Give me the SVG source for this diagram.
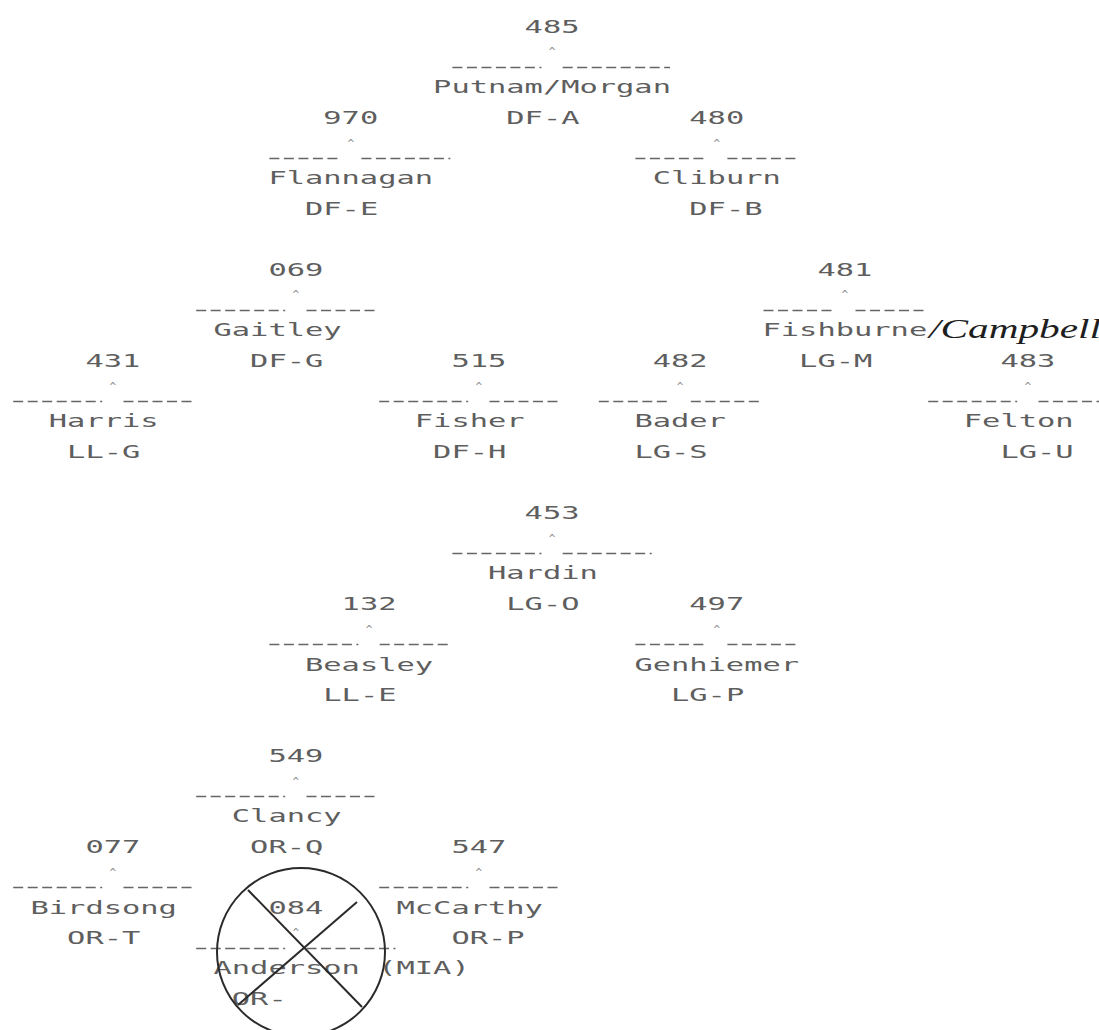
<svg xmlns="http://www.w3.org/2000/svg" width="1099" height="1030" viewBox="0 0 1099 1030">
<style>
.t{font-family:"DejaVu Sans Mono","Liberation Mono",monospace;font-size:18px;fill:#5e5e5e}
.c{font-family:"DejaVu Sans Mono","Liberation Mono",monospace;font-size:11px;fill:#8a8a8a;text-anchor:middle}
.d{fill:none;stroke:#666;stroke-width:1.5;stroke-dasharray:10 4.5}
.hand{font-family:"Liberation Serif","DejaVu Serif",serif;font-style:italic;font-size:27px;fill:#1e1e1e}
.mark{fill:none;stroke:#2a2a2a;stroke-width:2}
</style>
<rect width="1099" height="1030" fill="#fff"/>
<g id="connectors"/>
<g id="node-485">
<text class="t" x="524.6" y="32.5" textLength="54.9" lengthAdjust="spacingAndGlyphs">485</text>
<text class="c" x="552.05" y="55.4">^</text>
<path class="d" d="M452.4 67.4H541.4M562.7 67.4H670"/>
<text class="t" x="433.1" y="93.3" textLength="237.9" lengthAdjust="spacingAndGlyphs">Putnam/Morgan</text>
<text class="t" x="506.3" y="123.6" textLength="73.2" lengthAdjust="spacingAndGlyphs">DF-A</text>
</g>
<g id="node-970">
<text class="t" x="323.3" y="123.6" textLength="54.9" lengthAdjust="spacingAndGlyphs">970</text>
<text class="c" x="350.75" y="146.5">^</text>
<path class="d" d="M269.4 158.5H340.1M361.4 158.5H450.4"/>
<text class="t" x="268.4" y="184.4" textLength="164.7" lengthAdjust="spacingAndGlyphs">Flannagan</text>
<text class="t" x="305" y="214.8" textLength="73.2" lengthAdjust="spacingAndGlyphs">DF-E</text>
</g>
<g id="node-480">
<text class="t" x="689.3" y="123.6" textLength="54.9" lengthAdjust="spacingAndGlyphs">480</text>
<text class="c" x="716.75" y="146.5">^</text>
<path class="d" d="M635.4 158.5H706.1M727.4 158.5H797.1"/>
<text class="t" x="652.7" y="184.4" textLength="128.1" lengthAdjust="spacingAndGlyphs">Cliburn</text>
<text class="t" x="689.3" y="214.8" textLength="73.2" lengthAdjust="spacingAndGlyphs">DF-B</text>
</g>
<g id="node-069">
<text class="t" x="268.4" y="275.5" textLength="54.9" lengthAdjust="spacingAndGlyphs">069</text>
<text class="c" x="295.85" y="298.4">^</text>
<path class="d" d="M196.2 310.4H285.2M306.5 310.4H377.2"/>
<text class="t" x="213.5" y="336.3" textLength="128.1" lengthAdjust="spacingAndGlyphs">Gaitley</text>
<text class="t" x="250.1" y="366.7" textLength="73.2" lengthAdjust="spacingAndGlyphs">DF-G</text>
</g>
<g id="node-481">
<text class="t" x="817.4" y="275.5" textLength="54.9" lengthAdjust="spacingAndGlyphs">481</text>
<text class="c" x="844.85" y="298.4">^</text>
<path class="d" d="M763.5 310.4H834.2M855.5 310.4H926.2"/>
<text class="t" x="762.5" y="336.3" textLength="164.7" lengthAdjust="spacingAndGlyphs">Fishburne</text>
<text class="t" x="799.1" y="366.7" textLength="73.2" lengthAdjust="spacingAndGlyphs">LG-M</text>
</g>
<g id="node-431">
<text class="t" x="85.4" y="366.7" textLength="54.9" lengthAdjust="spacingAndGlyphs">431</text>
<text class="c" x="112.85" y="389.6">^</text>
<path class="d" d="M13.2 401.6H102.2M123.5 401.6H194.2"/>
<text class="t" x="48.8" y="427.4" textLength="109.8" lengthAdjust="spacingAndGlyphs">Harris</text>
<text class="t" x="67.1" y="457.8" textLength="73.2" lengthAdjust="spacingAndGlyphs">LL-G</text>
</g>
<g id="node-515">
<text class="t" x="451.4" y="366.7" textLength="54.9" lengthAdjust="spacingAndGlyphs">515</text>
<text class="c" x="478.85" y="389.6">^</text>
<path class="d" d="M379.2 401.6H468.2M489.5 401.6H560.2"/>
<text class="t" x="414.8" y="427.4" textLength="109.8" lengthAdjust="spacingAndGlyphs">Fisher</text>
<text class="t" x="433.1" y="457.8" textLength="73.2" lengthAdjust="spacingAndGlyphs">DF-H</text>
</g>
<g id="node-482">
<text class="t" x="652.7" y="366.7" textLength="54.9" lengthAdjust="spacingAndGlyphs">482</text>
<text class="c" x="680.15" y="389.6">^</text>
<path class="d" d="M598.8 401.6H669.5M690.8 401.6H761.5"/>
<text class="t" x="634.4" y="427.4" textLength="91.5" lengthAdjust="spacingAndGlyphs">Bader</text>
<text class="t" x="634.4" y="457.8" textLength="73.2" lengthAdjust="spacingAndGlyphs">LG-S</text>
</g>
<g id="node-483">
<text class="t" x="1000.4" y="366.7" textLength="54.9" lengthAdjust="spacingAndGlyphs">483</text>
<text class="c" x="1027.85" y="389.6">^</text>
<path class="d" d="M928.2 401.6H1017.2M1038.5 401.6H1110"/>
<text class="t" x="963.8" y="427.4" textLength="109.8" lengthAdjust="spacingAndGlyphs">Felton</text>
<text class="t" x="1000.4" y="457.8" textLength="73.2" lengthAdjust="spacingAndGlyphs">LG-U</text>
</g>
<g id="node-453">
<text class="t" x="524.6" y="518.6" textLength="54.9" lengthAdjust="spacingAndGlyphs">453</text>
<text class="c" x="552.05" y="541.5">^</text>
<path class="d" d="M452.4 553.5H541.4M562.7 553.5H651.7"/>
<text class="t" x="488" y="579.3" textLength="109.8" lengthAdjust="spacingAndGlyphs">Hardin</text>
<text class="t" x="506.3" y="609.7" textLength="73.2" lengthAdjust="spacingAndGlyphs">LG-O</text>
</g>
<g id="node-132">
<text class="t" x="341.6" y="609.7" textLength="54.9" lengthAdjust="spacingAndGlyphs">132</text>
<text class="c" x="369.05" y="632.6">^</text>
<path class="d" d="M269.4 644.6H358.4M379.7 644.6H450.4"/>
<text class="t" x="305" y="670.5" textLength="128.1" lengthAdjust="spacingAndGlyphs">Beasley</text>
<text class="t" x="323.3" y="700.9" textLength="73.2" lengthAdjust="spacingAndGlyphs">LL-E</text>
</g>
<g id="node-497">
<text class="t" x="689.3" y="609.7" textLength="54.9" lengthAdjust="spacingAndGlyphs">497</text>
<text class="c" x="716.75" y="632.6">^</text>
<path class="d" d="M635.4 644.6H706.1M727.4 644.6H797.1"/>
<text class="t" x="634.4" y="670.5" textLength="164.7" lengthAdjust="spacingAndGlyphs">Genhiemer</text>
<text class="t" x="671" y="700.9" textLength="73.2" lengthAdjust="spacingAndGlyphs">LG-P</text>
</g>
<g id="node-549">
<text class="t" x="268.4" y="761.6" textLength="54.9" lengthAdjust="spacingAndGlyphs">549</text>
<text class="c" x="295.85" y="784.5">^</text>
<path class="d" d="M196.2 796.5H285.2M306.5 796.5H377.2"/>
<text class="t" x="231.8" y="822.4" textLength="109.8" lengthAdjust="spacingAndGlyphs">Clancy</text>
<text class="t" x="250.1" y="852.8" textLength="73.2" lengthAdjust="spacingAndGlyphs">OR-Q</text>
</g>
<g id="node-077">
<text class="t" x="85.4" y="852.8" textLength="54.9" lengthAdjust="spacingAndGlyphs">077</text>
<text class="c" x="112.85" y="875.6">^</text>
<path class="d" d="M13.2 887.6H102.2M123.5 887.6H194.2"/>
<text class="t" x="30.5" y="913.5" textLength="146.4" lengthAdjust="spacingAndGlyphs">Birdsong</text>
<text class="t" x="67.1" y="943.9" textLength="73.2" lengthAdjust="spacingAndGlyphs">OR-T</text>
</g>
<g id="node-547">
<text class="t" x="451.4" y="852.8" textLength="54.9" lengthAdjust="spacingAndGlyphs">547</text>
<text class="c" x="478.85" y="875.6">^</text>
<path class="d" d="M379.2 887.6H468.2M489.5 887.6H560.2"/>
<text class="t" x="396.5" y="913.5" textLength="146.4" lengthAdjust="spacingAndGlyphs">McCarthy</text>
<text class="t" x="451.4" y="943.9" textLength="73.2" lengthAdjust="spacingAndGlyphs">OR-P</text>
</g>
<g id="node-084">
<text class="t" x="268.4" y="913.5" textLength="54.9" lengthAdjust="spacingAndGlyphs">084</text>
<text class="c" x="295.85" y="936.4">^</text>
<path class="d" d="M196.2 948.4H285.2M306.5 948.4H395.5"/>
<text class="t" x="213.5" y="974.3" textLength="256.2" lengthAdjust="spacingAndGlyphs">Anderson (MIA)</text>
<text class="t" x="231.8" y="1004.7" textLength="54.9" lengthAdjust="spacingAndGlyphs">OR-</text>
</g>
<g id="annotations">
<text class="hand" x="929" y="338" textLength="172" lengthAdjust="spacingAndGlyphs">/Campbell</text>
<circle class="mark" cx="301" cy="952" r="84"/>
<line class="mark" x1="248" y1="890" x2="362" y2="1007"/>
<line class="mark" x1="357" y1="902" x2="238" y2="1005"/>
</g>
</svg>
